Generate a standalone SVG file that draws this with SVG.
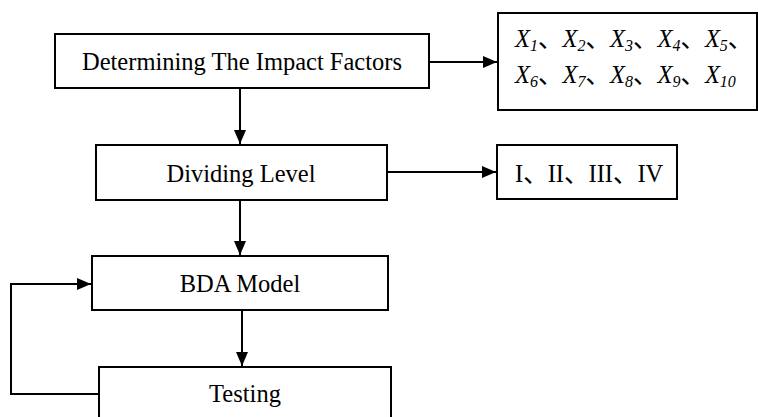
<svg xmlns="http://www.w3.org/2000/svg" width="758" height="417" viewBox="0 0 758 417">
<style>
.box{fill:#fff;stroke:#000;stroke-width:2}
.t{font-family:"Liberation Serif","Noto Sans CJK SC",serif;font-size:24.5px;fill:#000}
.c{fill:none;stroke:#000;stroke-width:2}
.x{font-style:italic}
.s{font-style:italic;font-size:16px}
</style>
<defs>
<marker id="ah" markerWidth="14" markerHeight="12" refX="14" refY="6" orient="auto" markerUnits="userSpaceOnUse">
<path d="M0,0 L14,6 L0,12 Z" fill="#000"/>
</marker>
</defs>
<rect width="758" height="417" fill="#fff"/>
<g id="connectors">
<path class="c" d="M429,62 L497,62" marker-end="url(#ah)"/>
<path class="c" d="M240,88 L240,144" marker-end="url(#ah)"/>
<path class="c" d="M387,172 L496,172" marker-end="url(#ah)"/>
<path class="c" d="M240,200 L240,255" marker-end="url(#ah)"/>
<path class="c" d="M242,310 L242,366" marker-end="url(#ah)"/>
<path class="c" d="M99,394 L11,394 L11,284 L91,284" marker-end="url(#ah)"/>
</g>
<g id="n1">
<rect class="box" x="55" y="34" width="374" height="54"/>
<text class="t" x="242" y="70" text-anchor="middle">Determining The Impact Factors</text>
</g>
<g id="n2">
<rect class="box" x="498" y="13" width="259" height="97"/>
<text class="t" x="515" y="47"><tspan class="x">X</tspan><tspan class="s" dy="4">1</tspan><tspan dy="-4">、</tspan><tspan class="x">X</tspan><tspan class="s" dy="4">2</tspan><tspan dy="-4">、</tspan><tspan class="x">X</tspan><tspan class="s" dy="4">3</tspan><tspan dy="-4">、</tspan><tspan class="x">X</tspan><tspan class="s" dy="4">4</tspan><tspan dy="-4">、</tspan><tspan class="x">X</tspan><tspan class="s" dy="4">5</tspan><tspan dy="-4">、</tspan></text>
<text class="t" x="515" y="83"><tspan class="x">X</tspan><tspan class="s" dy="4">6</tspan><tspan dy="-4">、</tspan><tspan class="x">X</tspan><tspan class="s" dy="4">7</tspan><tspan dy="-4">、</tspan><tspan class="x">X</tspan><tspan class="s" dy="4">8</tspan><tspan dy="-4">、</tspan><tspan class="x">X</tspan><tspan class="s" dy="4">9</tspan><tspan dy="-4">、</tspan><tspan class="x">X</tspan><tspan class="s" dy="4">10</tspan></text>
</g>
<g id="n3">
<rect class="box" x="96" y="145" width="291" height="55"/>
<text class="t" x="241" y="182" text-anchor="middle">Dividing Level</text>
</g>
<g id="n4">
<rect class="box" x="497" y="145" width="180" height="54"/>
<text class="t" x="515" y="182">I、II、III、IV</text>
</g>
<g id="n5">
<rect class="box" x="92" y="256" width="296" height="54"/>
<text class="t" x="240" y="292" text-anchor="middle">BDA Model</text>
</g>
<g id="n6">
<rect class="box" x="99" y="367" width="292" height="60"/>
<text class="t" x="245" y="402" text-anchor="middle">Testing</text>
</g>
</svg>
